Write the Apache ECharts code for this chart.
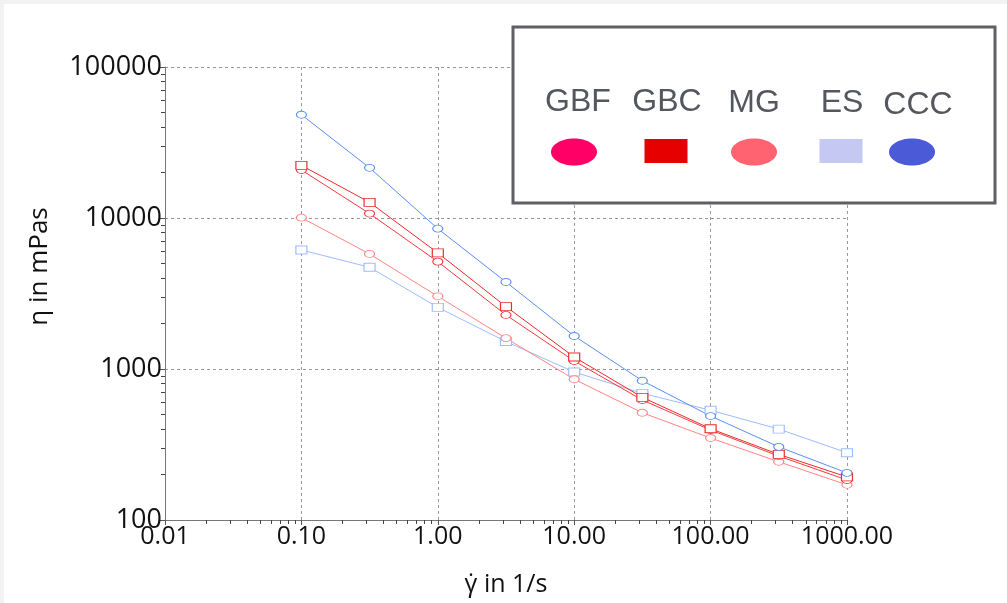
<!DOCTYPE html>
<html>
<head>
<meta charset="utf-8">
<script src="https://cdn.jsdelivr.net/npm/echarts@6/dist/echarts.min.js"></script>
<style>
  html, body { margin: 0; padding: 0; background: #f2f2f2; }
  #main { position: absolute; left: 4px; top: 4px; width: 1003px; height: 599px; background: #fff; }
</style>
</head>
<body>
<div id="main"></div>
<script>
// shear rate (1/s)
var shearRate = [0.1, 0.316, 1, 3.16, 10, 31.6, 100, 316, 1000];
// viscosity (mPas)
var gbf = [20800, 10700, 5140, 2280, 1130, 623, 394, 265, 184];
var gbc = [22300, 12700, 5870, 2590, 1200, 649, 402, 272, 193];
var mg  = [10050, 5780, 3030, 1600, 855, 513, 349, 243, 171];
var es  = [6140, 4720, 2560, 1520, 955, 690, 533, 400, 279];
var ccc = [48300, 21500, 8500, 3770, 1655, 836, 488, 305, 205];

var legendNames = ['GBF', 'GBC', 'MG', 'ES', 'CCC'];

var font = "'Open Sans', 'DejaVu Sans', sans-serif";

// minor ticks at 2..9 of every decade
function minorTicks(lo, hi) {
  var out = [];
  for (var d = lo; d < hi; d *= 10) {
    for (var k = 2; k <= 9; k++) out.push(+(d * k).toPrecision(3));
  }
  return out;
}

function pairs(arr) {
  return arr.map(function (v, i) { return [shearRate[i], v]; });
}

function mkSeries(name, arr, color, symbol) {
  return {
    name: name,
    type: 'line',
    data: pairs(arr),
    symbol: symbol,
    symbolSize: symbol == 'rect' ? [11, 8] : [10, 7],
    lineStyle: { color: color, width: 1 },
    itemStyle: { color: '#fff', borderColor: color, borderWidth: 1 },
    z: 3
  };
}

var myChart = echarts.init(document.getElementById('main'));

// legend drawn as a box like the original (labels above swatches)
var legendGfx = [{
  type: 'rect',
  shape: { x: 509, y: 23, width: 482, height: 176 },
  style: { fill: '#fff', stroke: '#5f5f66', lineWidth: 3 },
  z: 10
}];
var textX = [574, 663, 750, 838, 914];
var textY = [98, 98, 99, 99, 101];
var swX = [570, 662, 750, 837, 908];
var swatch = [
  { t: 'ellipse', c: '#ff0066' },
  { t: 'rect', c: '#e60000' },
  { t: 'ellipse', c: '#ff6372' },
  { t: 'rect', c: '#c5c8f2' },
  { t: 'ellipse', c: '#4b5bd8' }
];
legendNames.forEach(function (n, i) {
  legendGfx.push({
    type: 'text', z: 11,
    style: { x: textX[i], y: textY[i], text: n, fill: '#54575e', font: '32px Arial, "Liberation Sans", sans-serif', align: 'center', verticalAlign: 'middle' }
  });
  if (swatch[i].t == 'ellipse') {
    legendGfx.push({ type: 'ellipse', z: 11, shape: { cx: swX[i], cy: 148, rx: 23, ry: 13.5 }, style: { fill: swatch[i].c } });
  } else {
    legendGfx.push({ type: 'rect', z: 11, shape: { x: swX[i] - 21.5, y: 135, width: 43, height: 24 }, style: { fill: swatch[i].c } });
  }
});

var minorAxis = {
  type: 'log', logBase: 10,
  axisLine: { show: false },
  axisLabel: { show: false },
  splitLine: { show: false },
  axisPointer: { show: false }
};

var option = {
  backgroundColor: '#fff',
  animation: false,
  grid: { left: 161, top: 63, right: 160, bottom: 83 },
  xAxis: [{
    type: 'log',
    logBase: 10,
    min: 0.01,
    max: 1000,
    name: 'γ\u0307 in 1/s',
    nameLocation: 'middle',
    nameGap: 52,
    nameTextStyle: { fontFamily: font, fontSize: 25, color: '#111' },
    axisLine: { lineStyle: { color: '#777', width: 1 } },
    axisTick: { show: true, inside: false, length: 5, lineStyle: { color: '#555' } },
    axisLabel: {
      fontFamily: font, fontSize: 25, color: '#111', margin: 4,
      formatter: function (v) { return v < 0.05 ? '0.01' : v.toFixed(2); }
    },
    splitLine: { show: true, lineStyle: { color: '#999', type: [3, 3], width: 1 } }
  }, Object.assign({}, minorAxis, {
    min: 0.01, max: 1000, position: 'bottom', offset: 0,
    axisTick: { show: true, length: 4, customValues: minorTicks(0.01, 1000), lineStyle: { color: '#444' } }
  })],
  yAxis: [{
    type: 'log',
    logBase: 10,
    min: 100,
    max: 100000,
    name: 'η in mPas',
    nameLocation: 'middle',
    nameGap: 112,
    nameTextStyle: { fontFamily: font, fontSize: 26, color: '#111', padding: [0, 0, 0, 54] },
    axisLine: { show: true, lineStyle: { color: '#777', width: 1 } },
    axisTick: { show: true, inside: false, length: 5, lineStyle: { color: '#555' } },
    axisLabel: {
      fontFamily: font, fontSize: 27, color: '#111', margin: 3,
      formatter: function (v) { return String(Math.round(v)); }
    },
    splitLine: { show: true, lineStyle: { color: '#999', type: [3, 3], width: 1 } }
  }, Object.assign({}, minorAxis, {
    min: 100, max: 100000, position: 'left', offset: 0,
    axisTick: { show: true, length: 4, customValues: minorTicks(100, 100000), lineStyle: { color: '#444' } }
  })],
  series: [
    mkSeries('ES', es, '#9dbcff', 'rect'),
    mkSeries('MG', mg, '#ff8585', 'circle'),
    mkSeries('GBF', gbf, '#f03c3c', 'circle'),
    mkSeries('GBC', gbc, '#f02828', 'rect'),
    mkSeries('CCC', ccc, '#5b8ff2', 'circle')
  ],
  graphic: legendGfx
};

myChart.setOption(option);
</script>
</body>
</html>
